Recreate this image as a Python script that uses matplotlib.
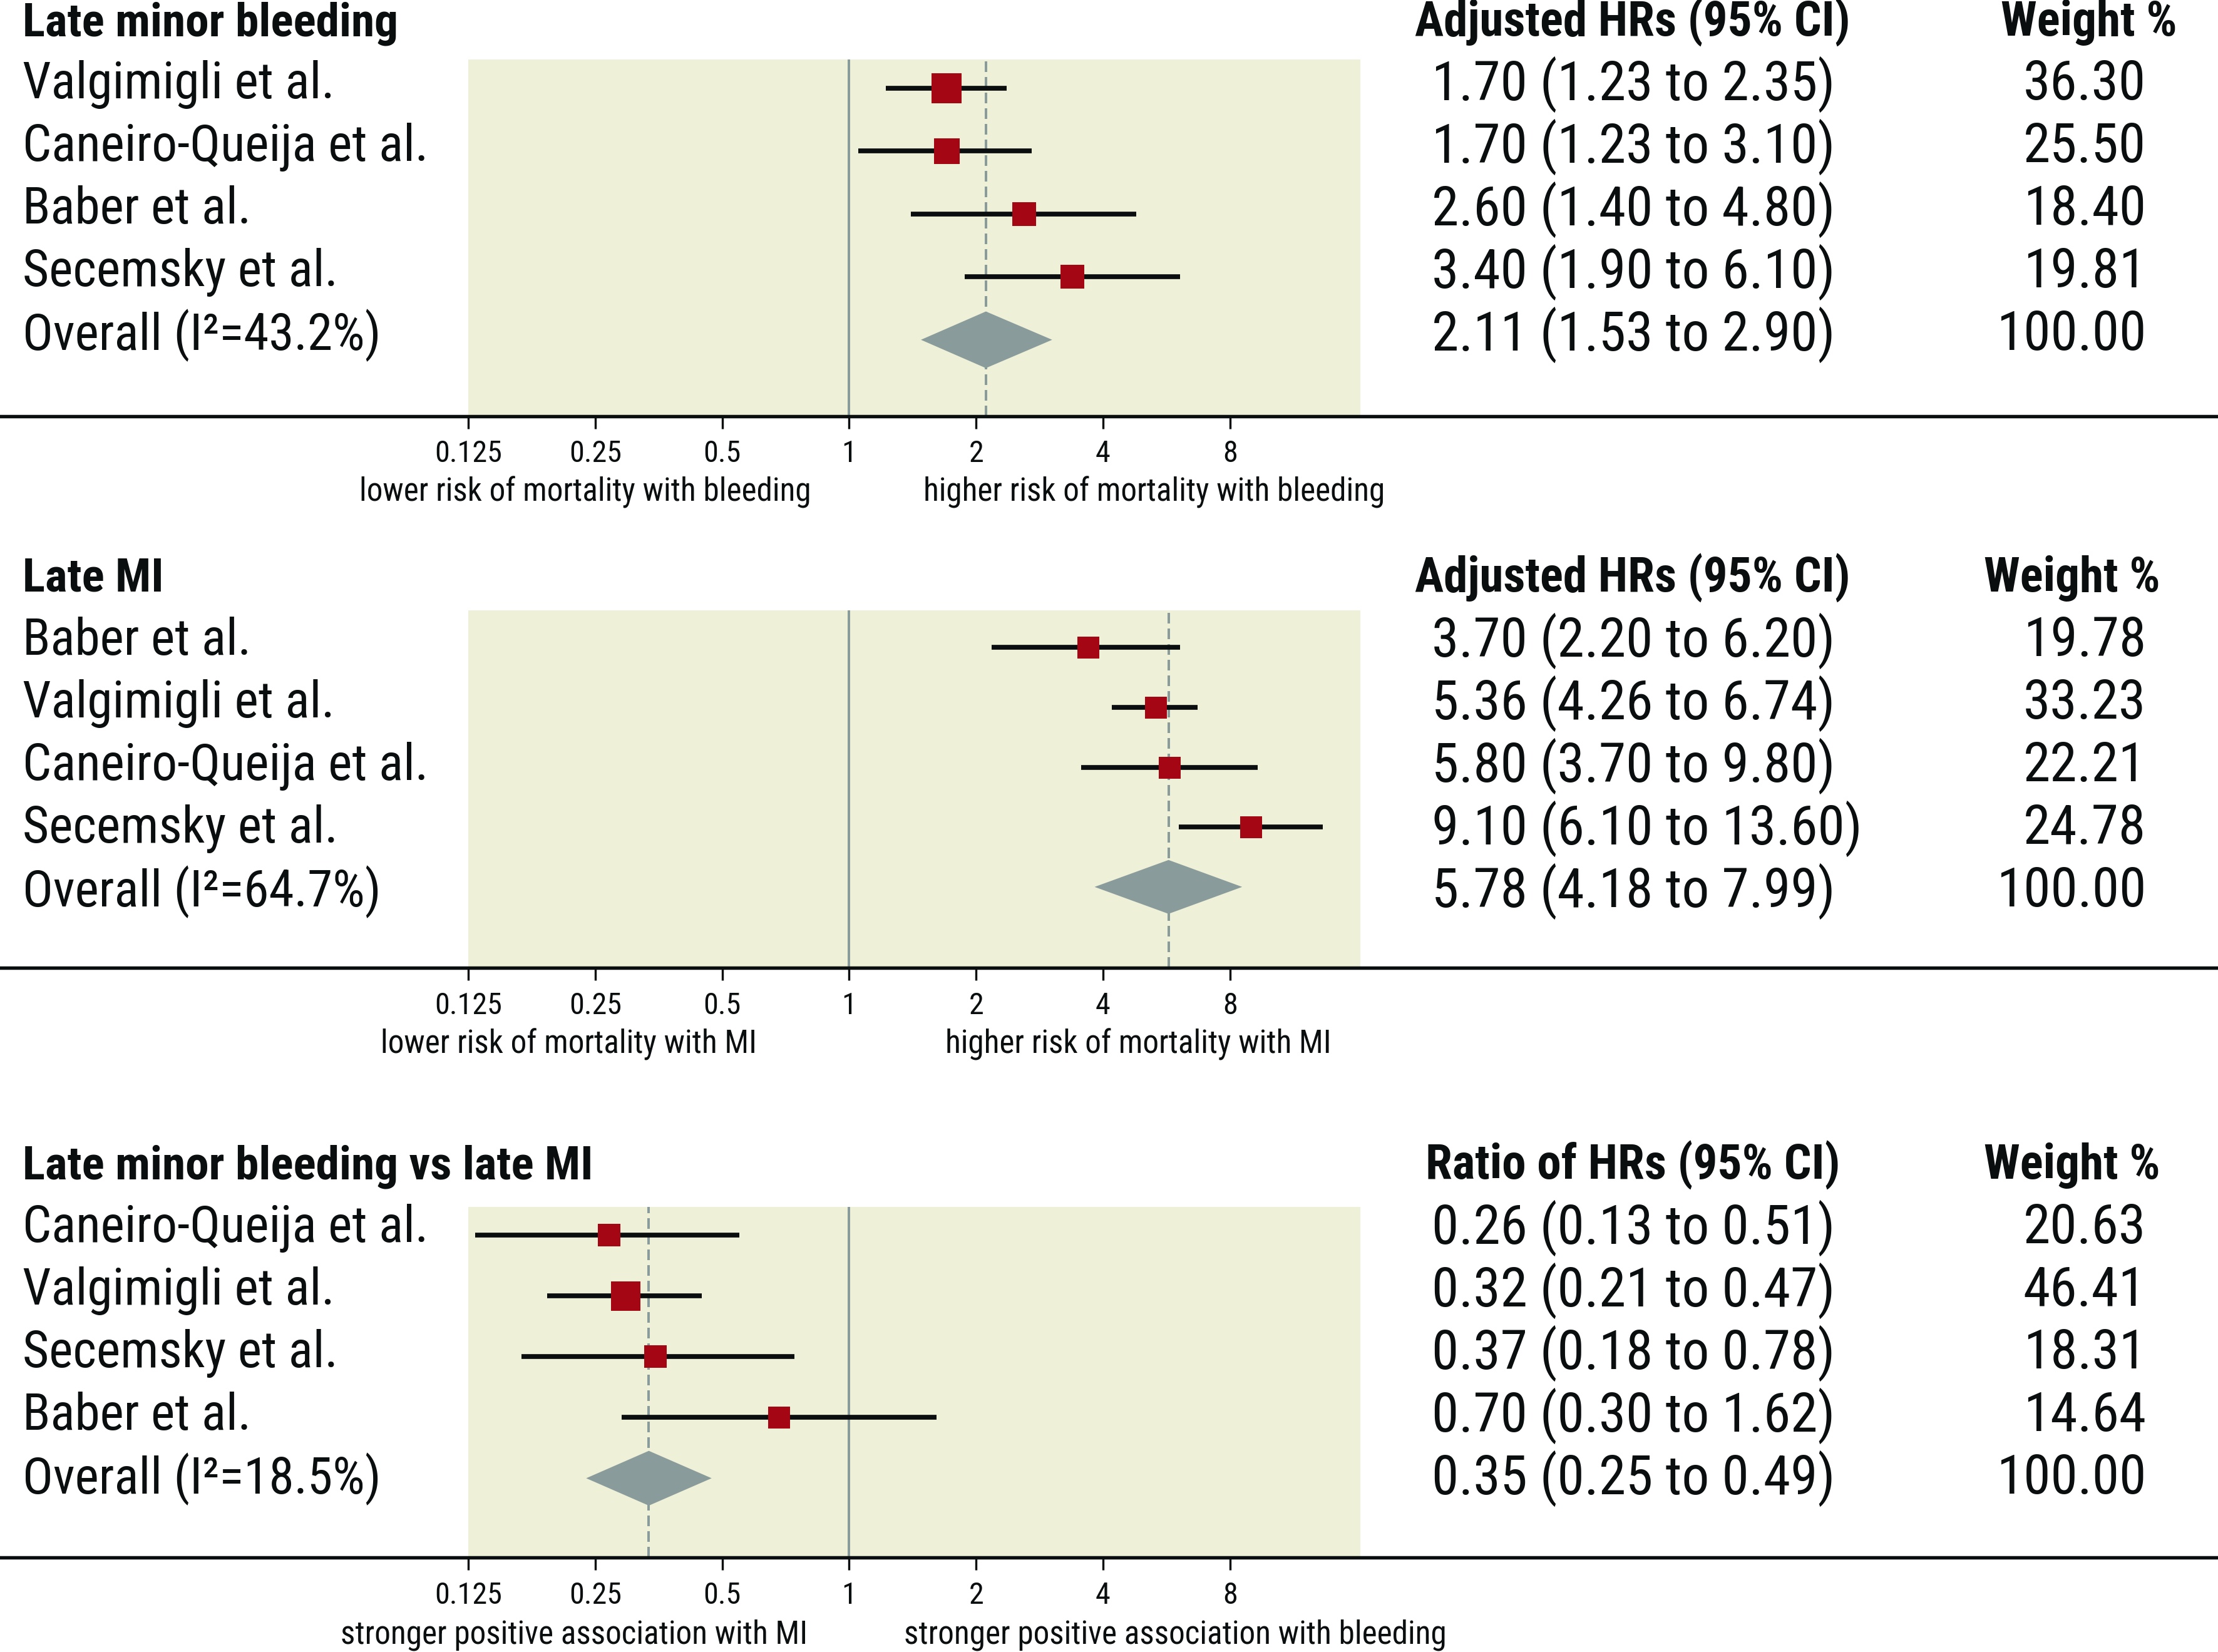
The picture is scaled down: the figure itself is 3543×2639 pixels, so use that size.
import os
import matplotlib
matplotlib.use("Agg")
import matplotlib.pyplot as plt
from matplotlib import font_manager as fm
from matplotlib.font_manager import FontProperties
from matplotlib.lines import Line2D
from matplotlib.patches import Polygon
from matplotlib.ticker import NullLocator

W, H, DPI = 3543, 2639, 300
PX = 72.0 / DPI  # points per pixel

# ---- data: late minor bleeding ----
bleed_studies = ['Valgimigli et al.', 'Caneiro-Queija et al.', 'Baber et al.', 'Secemsky et al.']
bleed_hr = [1.70, 1.70, 2.60, 3.38]
bleed_lo = [1.22, 1.05, 1.40, 1.88]
bleed_hi = [2.36, 2.71, 4.80, 6.10]
bleed_pooled = [2.11, 1.48, 3.03]
bleed_i2 = '43.2%'
bleed_ci_text = ['1.70 (1.23 to 2.35)', '1.70 (1.23 to 3.10)', '2.60 (1.40 to 4.80)',
                 '3.40 (1.90 to 6.10)', '2.11 (1.53 to 2.90)']
bleed_weight = [36.30, 25.50, 18.40, 19.81]

# ---- data: late MI ----
mi_studies = ['Baber et al.', 'Valgimigli et al.', 'Caneiro-Queija et al.', 'Secemsky et al.']
mi_hr = [3.68, 5.33, 5.75, 8.95]
mi_lo = [2.18, 4.20, 3.55, 6.05]
mi_hi = [6.10, 6.70, 9.30, 13.30]
mi_pooled = [5.72, 3.82, 8.55]
mi_i2 = '64.7%'
mi_ci_text = ['3.70 (2.20 to 6.20)', '5.36 (4.26 to 6.74)', '5.80 (3.70 to 9.80)',
              '9.10 (6.10 to 13.60)', '5.78 (4.18 to 7.99)']
mi_weight = [19.78, 33.23, 22.21, 24.78]

# ---- data: bleeding vs MI ----
ratio_studies = ['Caneiro-Queija et al.', 'Valgimigli et al.', 'Secemsky et al.', 'Baber et al.']
ratio_hr = [0.270, 0.295, 0.347, 0.680]
ratio_lo = [0.130, 0.192, 0.167, 0.289]
ratio_hi = [0.550, 0.448, 0.742, 1.610]
ratio_pooled = [0.335, 0.238, 0.472]
ratio_i2 = '18.5%'
ratio_ci_text = ['0.26 (0.13 to 0.51)', '0.32 (0.21 to 0.47)', '0.37 (0.18 to 0.78)',
                 '0.70 (0.30 to 1.62)', '0.35 (0.25 to 0.49)']
ratio_weight = [20.63, 46.41, 18.31, 14.64]

tick_vals = [0.125, 0.25, 0.5, 1, 2, 4, 8]
tick_text = ['0.125', '0.25', '0.5', '1', '2', '4', '8']

SHADE = '#EEF0D8'
RED = '#A50613'
GREY = '#8A9B9B'
INK = '#0B0E0F'


# pick a narrow sans if one is installed, else plain Liberation Sans
def font_files():
    out = {}
    for f in fm.fontManager.ttflist:
        b = os.path.basename(f.fname).lower()
        for c in '-_ ':
            b = b.replace(c, '')
        out[b] = f.fname
    return out


def pick_pair():
    files = font_files()
    for key in ['liberationsansnarrow', 'robotocondensed', 'notosanscondensed',
                'dejavusanscondensed', 'opensanscondensed']:
        reg, bold = None, None
        for b, fn in sorted(files.items()):
            if not b.startswith(key) or 'italic' in b or 'oblique' in b:
                continue
            rest = b[len(key):]
            if any(w in rest for w in ['semi', 'extra', 'light', 'thin', 'medium', 'black']):
                continue
            if 'bold' in rest:
                bold = bold or fn
            else:
                reg = reg or fn
        if reg and bold:
            return reg, bold
    return None, None


REG, BOLD = pick_pair()


def fprop(bold=False):
    if REG:
        return FontProperties(fname=BOLD if bold else REG)
    return FontProperties(family=['Liberation Sans', 'DejaVu Sans'],
                          weight='bold' if bold else 'normal')


fig = plt.figure(figsize=(W / DPI, H / DPI), dpi=DPI)
renderer = fig.canvas.get_renderer()


def fit(sample, target_px, bold=False):
    # font size (pt) so that the sample string is target_px wide
    fp = fprop(bold)
    fp.set_size(20)
    t = fig.text(0, 0, sample, fontproperties=fp)
    w = t.get_window_extent(renderer).width
    t.remove()
    fp.set_size(20 * target_px / w)
    return fp


F_NAME = fit('Caneiro-Queija et al.', 649)
F_VAL = fit('1.70 (1.23 to 2.35)', 644)
F_TITLE = fit('Late minor bleeding vs late MI', 913, bold=True)
F_HEAD = fit('Adjusted HRs (95% CI)', 696, bold=True)
F_TICK = fit('0.125', 108)
F_SIDE = fit('lower risk of mortality with bleeding', 723)


def fx(px):
    return px / W


def fy(py):
    return 1 - py / H


def panel(title, header, studies, hr, lo, hi, pooled, i2, ci_text, weight,
          side_left, side_right, lay):
    top, bottom, row0, pitch = lay['shade'], lay['axis'], lay['row0'], lay['pitch']
    ax = fig.add_axes([fx(748), fy(bottom), fx(2173 - 748), (bottom - top) / H])
    ax.set_facecolor(SHADE)
    ax.set_xscale('log', base=2)
    ax.set_xlim(0.125, 16.3)
    ax.set_ylim((bottom - row0) / pitch, (top - row0) / pitch)
    for s in ax.spines.values():
        s.set_visible(False)
    ax.set_yticks([])
    ax.set_xticks(tick_vals)
    ax.set_xticklabels(tick_text, fontproperties=F_TICK)
    ax.xaxis.set_minor_locator(NullLocator())
    ax.tick_params(axis='x', length=20 * PX, width=3.4 * PX, color=INK, pad=4.2,
                   labelcolor=INK)

    ax.axvline(1, color=GREY, lw=4 * PX, zorder=1)
    ax.axvline(pooled[0], color=GREY, lw=4 * PX, ls=(0, (4.25, 2.0)), zorder=1.5)

    for i in range(len(studies)):
        ax.plot([lo[i], hi[i]], [i, i], color=INK, lw=7.7 * PX,
                solid_capstyle='butt', zorder=2)
        ax.plot([hr[i]], [i], marker='s', ms=lay['box'][i] * PX, color=RED,
                mec='none', zorder=4)

    k = len(studies)
    hh = 0.45
    ax.add_patch(Polygon([(pooled[1], k), (pooled[0], k - hh), (pooled[2], k),
                          (pooled[0], k + hh)], closed=True, fc=GREY, ec='none', zorder=5))

    # axis rule across the full width
    fig.add_artist(Line2D([0, 1], [fy(bottom), fy(bottom)], transform=fig.transFigure,
                          color=INK, lw=5.5 * PX, zorder=10))

    names = studies + ['Overall (I\u00b2=%s)' % i2]
    wtxt = ['%.2f' % w for w in weight] + ['100.00']
    for i in range(k + 1):
        y = fy(lay['text0'] + i * 100.1)
        fig.text(fx(36), y, names[i], ha='left', va='center',
                 fontproperties=F_NAME, color=INK)
        fig.text(fx(2287), y, ci_text[i], ha='left', va='center',
                 fontproperties=F_VAL, color=INK)
        fig.text(fx(3428), y, wtxt[i], ha='right', va='center',
                 fontproperties=F_VAL, color=INK)

    yb = fy(lay['title'])
    fig.text(fx(36), yb, title, ha='left', va='baseline', fontproperties=F_TITLE, color=INK)
    fig.text(fx(2608), yb, header, ha='center', va='baseline', fontproperties=F_HEAD, color=INK)
    fig.text(fx(lay['wh']), yb, 'Weight %', ha='center', va='baseline',
             fontproperties=F_HEAD, color=INK)

    fig.text(fx(lay['side'][0]), fy(lay['side_y']), side_left, ha='center', va='center',
             fontproperties=F_SIDE, color=INK)
    fig.text(fx(lay['side'][1]), fy(lay['side_y']), side_right, ha='center', va='center',
             fontproperties=F_SIDE, color=INK)


panel('Late minor bleeding', 'Adjusted HRs (95% CI)', bleed_studies, bleed_hr, bleed_lo,
      bleed_hi, bleed_pooled, bleed_i2, bleed_ci_text, bleed_weight,
      'lower risk of mortality with bleeding', 'higher risk of mortality with bleeding',
      dict(title=57, shade=95, axis=665, row0=140.8, pitch=100.5, text0=135, wh=3337,
           side=(935, 1844), side_y=786, box=[48, 41, 38, 37.5]))

panel('Late MI', 'Adjusted HRs (95% CI)', mi_studies, mi_hr, mi_lo, mi_hi, mi_pooled,
      mi_i2, mi_ci_text, mi_weight,
      'lower risk of mortality with MI', 'higher risk of mortality with MI',
      dict(title=945, shade=975, axis=1546, row0=1034.4, pitch=95.6, text0=1024, wh=3310,
           side=(909, 1818), side_y=1668, box=[35, 35, 35, 35]))

panel('Late minor bleeding vs late MI', 'Ratio of HRs (95% CI)', ratio_studies, ratio_hr,
      ratio_lo, ratio_hi, ratio_pooled, ratio_i2, ratio_ci_text, ratio_weight,
      'stronger positive association with MI', 'stronger positive association with bleeding',
      dict(title=1883, shade=1928, axis=2488, row0=1972.6, pitch=97.2, text0=1962, wh=3310,
           side=(917, 1877), side_y=2612, box=[36, 47, 36, 35]))

fig.savefig('out.png', dpi=DPI, facecolor='white')
